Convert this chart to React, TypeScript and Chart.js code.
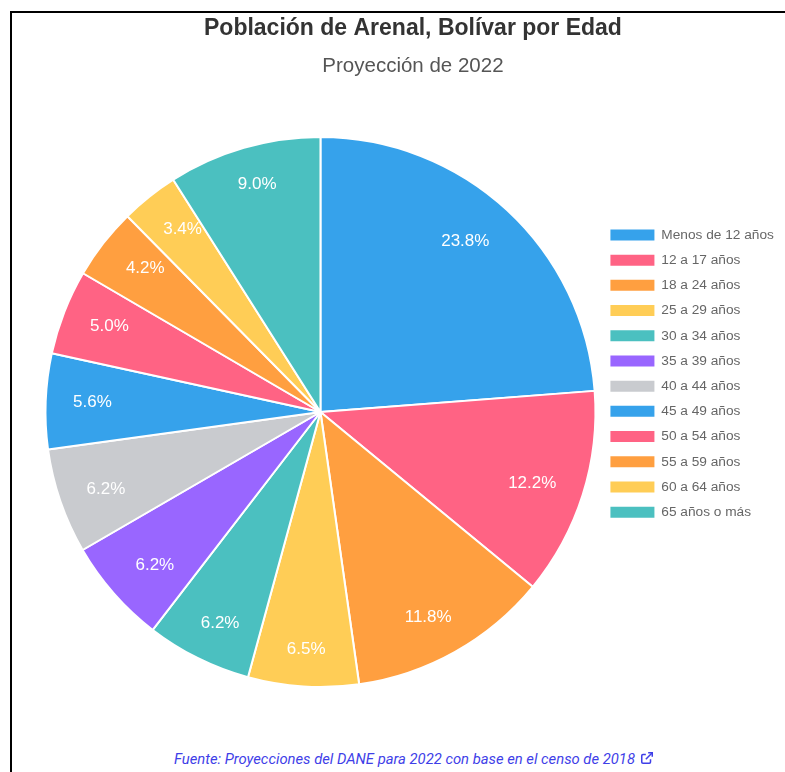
import React, { useEffect, useRef } from "react";
import { Chart, registerables } from "chart.js";

Chart.register(...registerables);

const titleText = "Población de Arenal, Bolívar por Edad";
const subtitleText = "Proyección de 2022";
const sourceText = "Fuente: Proyecciones del DANE para 2022 con base en el censo de 2018";

const categories = [
  "Menos de 12 años",
  "12 a 17 años",
  "18 a 24 años",
  "25 a 29 años",
  "30 a 34 años",
  "35 a 39 años",
  "40 a 44 años",
  "45 a 49 años",
  "50 a 54 años",
  "55 a 59 años",
  "60 a 64 años",
  "65 años o más",
];

const percentages = [23.8, 12.2, 11.8, 6.5, 6.2, 6.2, 6.2, 5.6, 5.0, 4.2, 3.4, 9.0];

const sliceColors = [
  "rgb(54, 162, 235)",
  "rgb(255, 99, 132)",
  "rgb(255, 159, 64)",
  "rgb(255, 205, 86)",
  "rgb(75, 192, 192)",
  "rgb(153, 102, 255)",
  "rgb(201, 203, 207)",
  "rgb(54, 162, 235)",
  "rgb(255, 99, 132)",
  "rgb(255, 159, 64)",
  "rgb(255, 205, 86)",
  "rgb(75, 192, 192)",
];

const LABEL_FONT = 17;
const LABEL_PAD = 4.4;
const LABEL_OFFSET = 23;

const sliceLabels = {
  id: "sliceLabels",
  afterDatasetsDraw(chart: any) {
    const ctx = chart.ctx;
    const meta = chart.getDatasetMeta(0);
    const data = chart.data.datasets[0].data as number[];
    ctx.save();
    ctx.font = `${LABEL_FONT}px 'Helvetica Neue', Helvetica, Arial, sans-serif`;
    ctx.fillStyle = "#ffffff";
    ctx.textAlign = "center";
    ctx.textBaseline = "middle";
    meta.data.forEach((arc: any, i: number) => {
      const p = arc.getProps(["x", "y", "startAngle", "endAngle", "outerRadius"], true);
      const mid = (p.startAngle + p.endAngle) / 2;
      const ux = Math.cos(mid);
      const uy = Math.sin(mid);
      const ax = p.x + ux * p.outerRadius;
      const ay = p.y + uy * p.outerRadius;
      const vx = -ux;
      const vy = -uy;
      const text = data[i].toFixed(1) + "%";
      const w = ctx.measureText(text).width + 2 * LABEL_PAD;
      const h = LABEL_FONT * 1.2 + 2 * LABEL_PAD;
      const m = Math.max(Math.abs(vx), Math.abs(vy));
      const dx = (w / 2) * (vx / m);
      const dy = (h / 2) * (vy / m);
      const x = ax + vx * LABEL_OFFSET + dx;
      const y = ay + vy * LABEL_OFFSET + dy;
      ctx.fillText(text, x, y);
    });
    ctx.restore();
  },
};

export default function App() {
  const canvasRef = useRef<HTMLCanvasElement | null>(null);

  useEffect(() => {
    if (!canvasRef.current) return;
    const pieLegendGen = (Chart as any).overrides.pie.plugins.legend.labels.generateLabels;
    const chart = new Chart(canvasRef.current, {
      type: "pie",
      data: {
        labels: categories,
        datasets: [
          {
            data: percentages,
            backgroundColor: sliceColors,
            borderColor: "#ffffff",
            borderWidth: 2,
          },
        ],
      },
      options: {
        responsive: false,
        animation: false,
        layout: { padding: { left: 30, right: 32.1, top: 0, bottom: 25 } },
        plugins: {
          title: {
            display: true,
            text: titleText,
            color: "#333333",
            font: { size: 23, weight: "bold" },
            padding: { top: 1.7, bottom: 2 },
          },
          subtitle: {
            display: true,
            text: subtitleText,
            color: "#555555",
            font: { size: 20.5, weight: "normal" },
            padding: { top: 9.9, bottom: 57.2 },
          },
          legend: {
            position: "right",
            align: "start",
            fullSize: false,
            title: { display: true, text: " ", padding: { top: 66.2, bottom: 0 } },
            labels: {
              boxWidth: 44,
              boxHeight: 11,
              padding: 11.5,
              color: "#666666",
              font: { size: 13.7 },
              generateLabels: (c: any) =>
                pieLegendGen(c).map((l: any) => ({ ...l, lineWidth: 0 })),
            },
          },
          tooltip: { enabled: false },
        },
      },
      plugins: [sliceLabels],
    });
    return () => chart.destroy();
  }, []);

  return (
    <div
      style={{
        position: "absolute",
        left: 10,
        top: 11,
        width: 775,
        height: 761,
        borderTop: "2px solid #000",
        borderLeft: "2px solid #000",
        overflow: "hidden",
        background: "#fff",
      }}
    >
      <canvas
        ref={canvasRef}
        width={804}
        height={700}
        style={{ position: "absolute", left: 0, top: 0, width: 804, height: 700 }}
      />
      <div
        style={{
          position: "absolute",
          left: 0,
          top: 737,
          width: 804,
          textAlign: "center",
          fontFamily: "Roboto, sans-serif",
          fontStyle: "italic",
          fontSize: 14.8,
          lineHeight: "18px",
          color: "#3f3fe8",
        }}
      >
        <span>{sourceText}</span>
        <svg
          width="14"
          height="14"
          viewBox="0 0 24 24"
          style={{ marginLeft: 5, verticalAlign: "-1px" }}
          fill="none"
          stroke="#3f3fe8"
          strokeWidth="2.6"
        >
          <path d="M18 14v5a2 2 0 0 1-2 2H5a2 2 0 0 1-2-2V8a2 2 0 0 1 2-2h5" />
          <path d="M14 3h7v7" />
          <path d="M10 14L21 3" />
        </svg>
      </div>
    </div>
  );
}
